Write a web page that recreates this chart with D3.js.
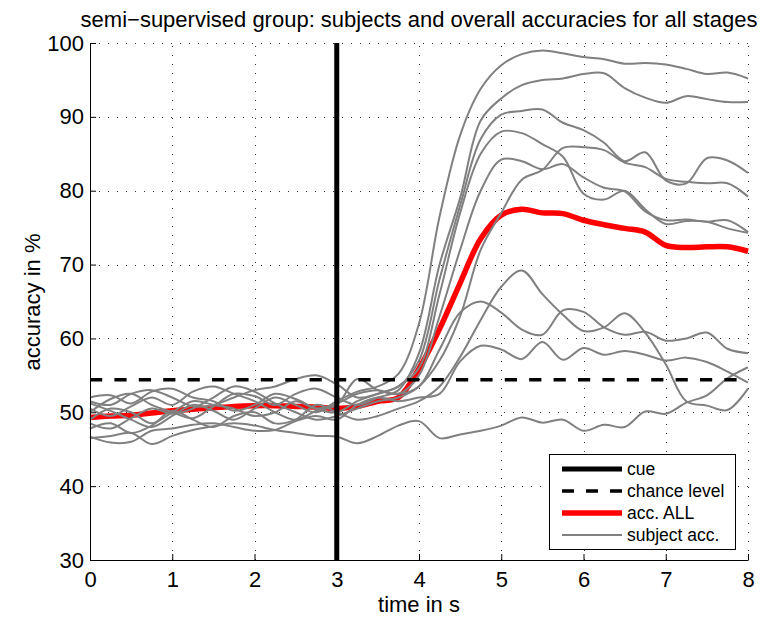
<!DOCTYPE html>
<html><head><meta charset="utf-8">
<script src="https://cdn.jsdelivr.net/npm/d3@7"></script>
<style>
body{margin:0;background:#fff}
text{font-family:"Liberation Sans",Arial,Helvetica,sans-serif;fill:#000}
</style>
</head><body><svg id="chart" width="763" height="619"></svg>
<script>
// ---------- data ----------
const times = [0,0.25,0.5,0.75,1,1.25,1.5,1.75,2,2.25,2.5,2.75,3,3.25,3.5,3.75,4,4.25,4.5,4.75,5,5.25,5.5,5.75,6,6.25,6.5,6.75,7,7.25,7.5,7.75,8];
const subjA = [51.2,50.2,49.0,48.0,49.5,51.0,50.2,49.0,50.5,52.0,51.0,50.0,51.5,52.8,53.5,55.2,62.0,76.5,87.5,93.8,97.0,98.5,99.0,98.6,98.1,97.8,97.2,97.3,97.1,96.5,95.8,96.0,95.2];
const subjB = [50.0,51.8,52.5,51.0,50.0,49.2,50.8,52.5,52.2,51.0,52.5,53.2,52.0,51.0,52.0,53.0,58.0,70.0,79.0,89.5,92.5,94.3,95.0,95.2,95.8,95.9,93.9,92.6,91.9,92.8,92.4,92.0,92.0];
const subjC = [52.0,52.3,51.2,52.8,53.2,52.0,51.5,50.2,51.0,52.5,51.8,50.5,50.0,51.5,52.5,53.5,57.0,68.0,78.0,87.0,90.3,90.8,91.0,89.2,88.2,86.5,84.0,85.2,81.4,81.0,84.4,84.1,82.4];
const subjD = [48.5,47.8,49.2,50.5,49.8,50.5,52.0,53.5,52.8,51.2,50.0,49.0,49.5,50.5,51.5,52.0,53.5,57.0,63.0,72.0,77.0,81.5,82.8,85.8,85.9,85.5,83.8,83.2,81.6,81.2,81.0,81.0,79.2];
const subjE = [51.5,51.0,52.5,53.0,52.0,50.8,51.0,52.0,53.0,53.5,54.5,55.0,53.8,52.0,52.5,53.5,56.0,66.0,77.0,85.0,88.0,87.8,86.3,84.6,79.6,78.8,80.0,77.5,75.5,75.9,75.8,74.9,74.3];
const subjF = [49.0,50.5,50.0,48.5,50.0,51.5,51.0,50.5,49.5,50.0,51.5,50.5,51.2,52.5,53.0,52.5,55.0,63.0,72.0,80.0,84.2,84.0,82.9,83.6,81.8,80.4,79.9,77.2,76.0,76.1,75.8,76.0,74.4];
const subjG = [47.8,48.5,47.2,48.2,50.2,49.0,48.0,49.5,50.0,48.5,49.0,51.0,50.0,49.0,49.5,50.5,51.5,53.5,57.5,62.5,67.0,69.2,66.0,63.2,61.0,61.5,63.4,60.8,56.5,51.5,50.9,50.3,53.2];
const subjH = [50.5,49.5,50.8,52.0,51.0,52.8,53.5,52.5,51.5,50.0,49.0,50.2,51.0,54.5,53.0,52.5,53.5,58.5,63.5,65.0,63.5,61.2,60.5,63.8,63.6,61.5,60.5,60.9,59.7,60.0,60.8,58.6,58.0];
const subjI = [46.7,45.9,46.0,47.5,47.8,48.3,48.5,48.0,47.5,47.6,48.8,49.5,49.0,51.0,52.0,51.5,52.0,52.5,56.9,59.0,58.5,57.2,59.5,57.1,58.7,57.8,58.3,57.8,57.0,57.4,56.8,55.5,54.0];
const subjJ = [46.5,46.8,47.2,45.7,46.8,47.6,48.1,48.5,48.2,47.6,47.2,46.8,46.7,45.8,46.8,48.2,48.8,46.5,47.0,47.5,48.2,49.3,48.6,49.0,47.5,48.3,48.0,50.1,49.8,51.3,52.3,54.6,56.1];
const accAll = [49.3,49.5,49.6,49.9,50.2,50.4,50.6,50.8,50.9,50.9,50.8,50.7,50.5,50.8,51.5,52.0,55.9,61.3,67.5,73.5,76.7,77.5,77.0,76.9,76.0,75.4,74.9,74.4,72.6,72.3,72.4,72.4,71.8];
const subjects = [subjA,subjB,subjC,subjD,subjE,subjF,subjG,subjH,subjI,subjJ];
const cueTime = 3;
const chanceLevel = 54.4;
const xTicks = [0,1,2,3,4,5,6,7,8];
const yTicks = [30,40,50,60,70,80,90,100];
const legendLabels = ["cue","chance level","acc. ALL","subject acc."];
const titleText = "semi\u2212supervised group: subjects and overall accuracies for all stages";

// ---------- layout ----------
const L = 90, R = 748, T = 43, B = 560;
const svg = d3.select("#chart");
const x = d3.scaleLinear().domain([0,8]).range([L,R]);
const y = d3.scaleLinear().domain([30,100]).range([B,T]);

// grid
const grid = svg.append("g").attr("stroke","#333").attr("stroke-width",1)
  .attr("stroke-dasharray","1,8").attr("shape-rendering","crispEdges");
grid.selectAll(".gx").data(xTicks.filter(d=>d>0)).join("line")
  .attr("x1",d=>Math.round(x(d))+0.5).attr("x2",d=>Math.round(x(d))+0.5)
  .attr("y1",B).attr("y2",T);
grid.selectAll(".gy").data(yTicks.filter(d=>d>30)).join("line")
  .attr("y1",d=>Math.round(y(d))+0.5).attr("y2",d=>Math.round(y(d))+0.5)
  .attr("x1",L).attr("x2",R);

const line = d3.line().x((d,i)=>x(times[i])).y(d=>y(d)).curve(d3.curveCatmullRom.alpha(0.5));

// overall accuracy
svg.append("path").datum(accAll).attr("d",line).attr("fill","none")
  .attr("stroke","#ff0000").attr("stroke-width",5.5).attr("stroke-linejoin","round");

// subjects
svg.append("g").selectAll("path").data(subjects).join("path")
  .attr("d",line).attr("fill","none").attr("stroke","#808080")
  .attr("stroke-width",2).attr("stroke-linejoin","round");

// chance level
svg.append("line").attr("x1",x(0)).attr("x2",x(8))
  .attr("y1",y(chanceLevel)).attr("y2",y(chanceLevel))
  .attr("stroke","#000").attr("stroke-width",3.5).attr("stroke-dasharray","12.2,12.2");

// cue
svg.append("line").attr("x1",x(cueTime)).attr("x2",x(cueTime))
  .attr("y1",y(30)).attr("y2",y(100))
  .attr("stroke","#000").attr("stroke-width",5);

// axes
const fs = 22;
const ax = svg.append("g").attr("transform",`translate(0,${B})`)
  .call(d3.axisBottom(x).tickValues(xTicks).tickFormat(d3.format("d"))
    .tickSizeInner(-6).tickSizeOuter(0).tickPadding(11));
const ay = svg.append("g").attr("transform",`translate(${L},0)`)
  .call(d3.axisLeft(y).tickValues(yTicks).tickFormat(d3.format("d"))
    .tickSizeInner(-6).tickSizeOuter(0).tickPadding(6));
[ax,ay].forEach(g=>{
  g.attr("font-family",null).attr("font-size",null);
  g.selectAll("text").attr("font-size",fs);
  g.select(".domain").attr("stroke","#000").attr("stroke-width",1);
  g.selectAll(".tick line").attr("stroke","#000");
});

// labels
svg.append("text").attr("x",(L+R)/2).attr("y",612).attr("text-anchor","middle")
  .attr("font-size",fs).text("time in s");
svg.append("text").attr("transform",`translate(40,302) rotate(-90)`).attr("text-anchor","middle")
  .attr("font-size",fs).text("accuracy in %");
svg.append("text").attr("x",(L+R)/2).attr("y",27).attr("text-anchor","middle")
  .attr("font-size",fs).text(titleText);

// legend
const lg = svg.append("g");
lg.append("rect").attr("x",549.5).attr("y",454.5).attr("width",186).attr("height",95)
  .attr("fill","#fff").attr("stroke","#000").attr("stroke-width",1);
const legStyles = [
  {stroke:"#000",w:5,dash:null},
  {stroke:"#000",w:3.5,dash:"12,12"},
  {stroke:"#ff0000",w:5.5,dash:null},
  {stroke:"#808080",w:2,dash:null}
];
legendLabels.forEach((lab,i)=>{
  const cy = 469 + i*22;
  lg.append("line").attr("x1",562).attr("x2",622).attr("y1",cy).attr("y2",cy)
    .attr("stroke",legStyles[i].stroke).attr("stroke-width",legStyles[i].w)
    .attr("stroke-dasharray",legStyles[i].dash);
  lg.append("text").attr("x",627).attr("y",cy+5.5).attr("font-size",17.5).text(lab);
});
</script>
</body></html>
